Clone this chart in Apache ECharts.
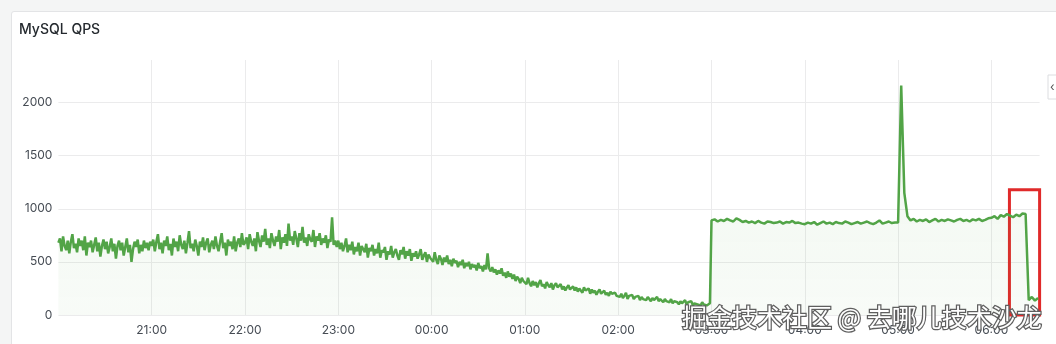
<!DOCTYPE html>
<html>
<head>
<meta charset="utf-8">
<script src="https://cdn.jsdelivr.net/npm/echarts@6/dist/echarts.min.js"></script>
<style>
  html, body { margin: 0; padding: 0; background: #f4f5f5; }
  #panel { position: absolute; left: 11px; top: 11px; width: 1100px; height: 400px; background: #fff; border: 1px solid #e3e4e6; border-radius: 3px; }
  #chart { position: absolute; left: 0; top: 0; width: 1056px; height: 344px; }
</style>
</head>
<body>
<div id="panel"></div>
<div id="chart"></div>
<script>
// Panel title and watermark
const panelTitle = 'MySQL QPS';
const watermark = '掘金技术社区 @ 去哪儿技术沙龙';

// X axis: minutes after 20:00
const startHour = 20;
const axisMaxMinutes = 631;          // 06:31
const hourTicks = ['21:00','22:00','23:00','00:00','01:00','02:00','03:00','04:00','05:00','06:00'];

// QPS samples per hour. 20:00-02:59 one per minute, 03:00-06:30 one per 2 minutes
const qps20 = [680,720,600,740,650,610,700,580,690,760,630,670,590,720,650,700,610,740,560,680,
               640,700,590,660,730,600,680,550,650,710,620,690,580,640,720,600,670,530,650,700,
               610,680,560,640,720,590,660,500,620,690,640,710,580,660,600,700,630,680,610,690];
const qps21 = [650,710,600,690,760,620,680,580,700,650,740,610,670,560,720,640,690,600,750,660,
               620,700,580,680,790,630,670,600,710,650,560,690,640,730,610,680,720,590,660,700,
               620,740,650,600,690,770,630,680,560,710,650,690,620,740,600,680,720,640,770,660];
const qps22 = [680,730,620,760,690,650,720,600,780,700,640,750,690,810,660,720,630,770,700,650,
               740,690,800,620,730,680,760,650,860,700,740,660,790,720,640,770,700,830,680,730,
               650,760,710,690,800,640,740,700,770,660,720,680,750,630,710,690,920,660,700,640];
const qps23 = [700,620,680,600,650,720,590,660,610,690,570,640,600,680,560,650,620,590,670,540,
               630,600,660,560,620,580,680,540,610,590,640,520,600,570,650,540,590,620,560,520,
               610,570,640,530,600,560,620,510,580,550,600,530,570,620,520,560,590,500,570,540];
const qps00 = [550,500,590,520,480,560,530,470,540,500,560,480,520,460,530,490,510,450,500,470,
               520,440,490,460,500,430,480,450,470,420,490,440,460,410,470,430,580,440,410,450,
               400,430,380,420,390,440,370,400,350,410,360,390,340,380,320,360,340,300,350,320];
const qps01 = [330,290,350,300,270,320,280,310,260,300,330,270,290,250,310,280,260,300,240,280,
               300,260,250,290,240,270,230,260,280,240,250,270,230,260,220,250,240,210,260,230,
               220,250,200,240,210,230,190,220,240,200,210,230,190,210,180,220,200,190,210,180];
const qps02 = [190,170,200,160,180,210,150,180,170,190,150,170,160,180,140,170,150,160,140,170,
               150,130,160,140,150,170,130,150,140,120,150,130,140,120,150,110,130,140,120,100,
               130,110,120,140,100,120,110,130,90,110,120,100,110,90,120,100,110,90,100,110];
const qps03 = [890,900,880,895,885,905,890,880,910,895,875,885,870,880,865,885,870,860,880,875,865,870,880,860,875,870,885,865,870,860];
const qps04 = [855,870,860,875,850,865,880,860,870,855,875,865,860,880,870,855,865,875,860,870,880,865,855,870,890,860,870,880,865,870];
const qps05 = [870,2160,1150,930,890,905,880,895,885,900,875,890,905,880,895,885,900,890,880,895,905,885,895,880,900,890,905,885,895,910];
const qps06 = [915,930,905,940,925,950,935,920,945,930,955,950,140,170,135,160];

// Highlighted window (red box): minutes after 20:00 and QPS range
const boxMinutes = [611.6, 632.2];
const boxQps = [-10, 1180];

const hourBlocks = [qps20, qps21, qps22, qps23, qps00, qps01, qps02, qps03, qps04, qps05, qps06];
const seriesData = [];
hourBlocks.forEach((block, k) => {
  const step = block.length >= 60 ? 1 : 2;
  block.forEach((v, i) => seriesData.push([k * 60 + i * step, v]));
});

const chart = echarts.init(document.getElementById('chart'), null, { renderer: 'canvas' });
const FONT = 'Inter, Roboto, "Noto Sans", sans-serif';
chart.setOption({
  animation: false,
  backgroundColor: 'transparent',
  textStyle: { fontFamily: FONT },
  title: {
    text: panelTitle,
    left: 14, top: 18,
    textStyle: { fontSize: 14, fontWeight: 500, color: '#24292e', fontFamily: FONT }
  },
  grid: { left: 58.4, right: 16.4, top: 60, bottom: 29, containLabel: false },
  xAxis: {
    type: 'value',
    min: 0, max: axisMaxMinutes, interval: 60,
    axisLine: { show: false },
    axisTick: { show: false },
    axisLabel: {
      color: '#464c54', fontSize: 12, margin: 9, fontFamily: FONT,
      showMinLabel: false, showMaxLabel: false,
      formatter: (v) => { const idx = Math.round(v / 60) - 1; return (v % 60 === 0 && hourTicks[idx]) ? hourTicks[idx] : ''; }
    },
    splitLine: { show: true, showMinLine: false, showMaxLine: false, lineStyle: { color: '#ebebec', width: 1 } }
  },
  yAxis: {
    type: 'value',
    min: 0, max: 2400, interval: 500,
    axisLine: { show: false },
    axisTick: { show: false },
    axisLabel: { color: '#464c54', fontSize: 12, margin: 6, fontFamily: FONT, showMaxLabel: false,
      formatter: (v) => (v % 500 === 0 ? String(v) : '') },
    splitLine: { show: true, showMaxLine: false, lineStyle: { color: '#ebebec', width: 1 } }
  },
  series: [{
    type: 'line',
    data: seriesData,
    showSymbol: false,
    symbol: 'none',
    clip: false,
    lineStyle: { color: '#52a447', width: 2.5 },
    areaStyle: {
      color: new echarts.graphic.LinearGradient(0, 0, 0, 1, [
        { offset: 0, color: 'rgba(86,166,75,0.13)' },
        { offset: 1, color: 'rgba(86,166,75,0.06)' }
      ])
    },
    markArea: {
      silent: true,
      itemStyle: { color: 'rgba(0,0,0,0)', borderColor: '#e02a2a', borderWidth: 3 },
      data: [[{ xAxis: boxMinutes[0], yAxis: boxQps[0] }, { xAxis: boxMinutes[1], yAxis: boxQps[1] }]]
    }
  }],
  graphic: [
    {
      type: 'group', z: 50,
      children: [
        { type: 'rect', shape: { x: 1048, y: 75, width: 30, height: 24 }, style: { fill: '#fff', stroke: '#dcdde0', lineWidth: 1 } },
        { type: 'text', style: { x: 1050, y: 87, text: '‹', fill: '#555', font: '12px ' + FONT, verticalAlign: 'middle' } }
      ]
    },
    {
      type: 'text', z: 100,
      style: {
        x: 682, y: 317,
        text: watermark,
        font: '25px "Noto Sans CJK SC"',
        fill: '#ffffff',
        stroke: '#5f5f5f',
        lineWidth: 2.5,
        strokeFirst: true,
        verticalAlign: 'middle'
      }
    }
  ]
});
</script>
</body>
</html>
